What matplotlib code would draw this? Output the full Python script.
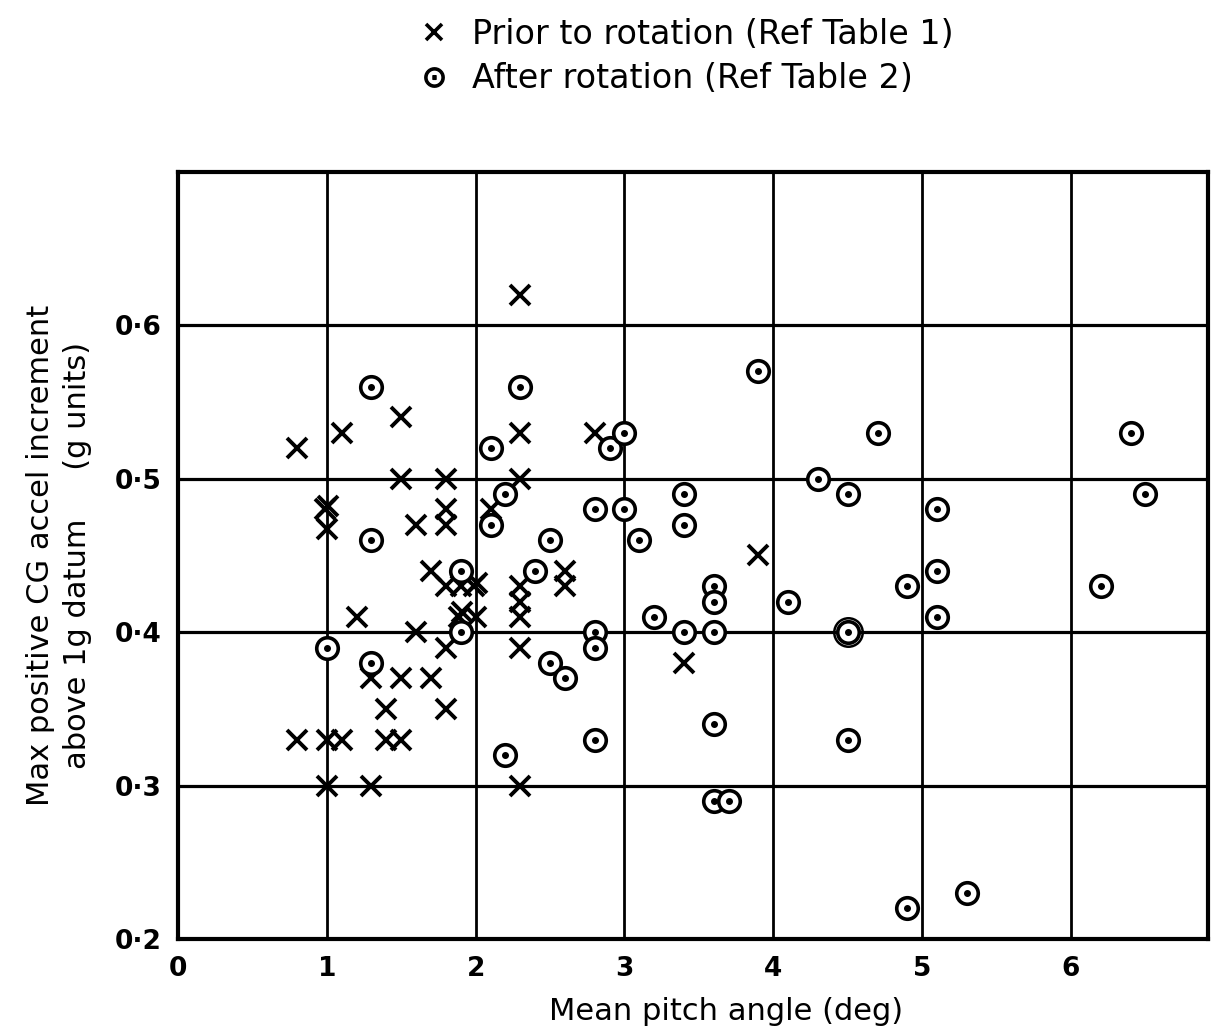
import matplotlib
matplotlib.use("Agg")
import matplotlib.pyplot as plt
from matplotlib.lines import Line2D
import numpy as np

# pitch angle (deg) vs max positive CG accel increment (g)
prior_x = [0.8, 0.8, 0.99, 1.01, 1.0, 1.0, 1.0, 1.1, 1.1, 1.2, 1.3, 1.3, 1.4, 1.4,
           1.5, 1.5, 1.5, 1.5, 1.6, 1.6, 1.7, 1.7, 1.8, 1.8, 1.8, 1.8, 1.8, 1.8,
           1.9, 1.89, 1.91, 1.99, 2.01, 2.0, 2.1, 2.3, 2.3, 2.3, 2.3, 2.3, 2.3,
           2.3, 2.3, 2.6, 2.6, 2.8, 3.4, 3.9]
prior_y = [0.52, 0.33, 0.48, 0.482, 0.467, 0.33, 0.30, 0.53, 0.33, 0.41, 0.37,
           0.30, 0.35, 0.33, 0.54, 0.50, 0.37, 0.33, 0.47, 0.40, 0.44, 0.37,
           0.50, 0.48, 0.47, 0.43, 0.39, 0.35, 0.43, 0.41, 0.413, 0.43, 0.432,
           0.41, 0.48, 0.62, 0.53, 0.50, 0.43, 0.42, 0.41, 0.39, 0.30, 0.44,
           0.43, 0.53, 0.38, 0.45]

after_x = [1.0, 1.3, 1.3, 1.3, 1.9, 1.9, 2.1, 2.1, 2.2, 2.2, 2.3, 2.4, 2.5, 2.5,
           2.6, 2.8, 2.8, 2.8, 2.8, 2.9, 3.0, 3.0, 3.1, 3.2, 3.4, 3.4, 3.4, 3.6,
           3.6, 3.6, 3.6, 3.6, 3.7, 3.9, 4.1, 4.3, 4.5, 4.5, 4.5, 4.7, 4.9, 4.9,
           5.1, 5.1, 5.1, 5.3, 6.2, 6.4, 6.5]
after_y = [0.39, 0.56, 0.46, 0.38, 0.44, 0.40, 0.52, 0.47, 0.49, 0.32, 0.56,
           0.44, 0.46, 0.38, 0.37, 0.48, 0.40, 0.39, 0.33, 0.52, 0.53, 0.48,
           0.46, 0.41, 0.49, 0.47, 0.40, 0.43, 0.42, 0.40, 0.34, 0.29, 0.29,
           0.57, 0.42, 0.50, 0.49, 0.40, 0.33, 0.53, 0.43, 0.22, 0.48, 0.44,
           0.41, 0.23, 0.43, 0.53, 0.49]
# how many readings sit on the same spot (drawn as extra rings)
after_n = [1] * len(after_x)
after_n[37] = 2

x_ticks = [0, 1, 2, 3, 4, 5, 6]
y_ticks = [0.2, 0.3, 0.4, 0.5, 0.6]

plt.rcParams['font.family'] = ['DejaVu Sans']

fig = plt.figure(figsize=(12.23, 10.33), dpi=100)
ax = fig.add_axes([0.1455, 0.091, 0.8422, 0.7425])

ax.set_xlim(0, 6.92)
ax.set_ylim(0.2, 0.7)

for xv in x_ticks[1:]:
    ax.axvline(xv, color='black', lw=2.0, zorder=1)
for yv in y_ticks[1:]:
    ax.axhline(yv, color='black', lw=2.3, zorder=1)

ax.plot(prior_x, prior_y, ls='none', marker='x', ms=14, mew=2.8,
        color='black', zorder=3)

ax.plot(after_x, after_y, ls='none', marker='o', ms=15.5, mew=2.6,
        mfc='white', mec='black', zorder=4)
ax.plot(after_x, after_y, ls='none', marker='o', ms=4, color='black', zorder=5)
for xv, yv, n in zip(after_x, after_y, after_n):
    for k in range(1, n):
        ax.plot([xv], [yv], ls='none', marker='o', ms=15.5 + 5 * k, mew=1.8,
                mfc='none', mec='black', zorder=4)

ax.set_xticks(x_ticks)
ax.set_xticklabels([str(v) for v in x_ticks])
ax.set_yticks(y_ticks)
ax.set_yticklabels(['0·' + str(int(round(v * 10))) for v in y_ticks])
ax.tick_params(length=0, labelsize=19, pad=12)
for lab in ax.get_xticklabels() + ax.get_yticklabels():
    lab.set_fontweight('bold')

for s in ax.spines.values():
    s.set_linewidth(3.0)

ax.set_xlabel('Mean pitch angle (deg)', fontsize=22, labelpad=14)
ax.xaxis.set_label_coords(0.532, -0.075)
ax.set_ylabel('Max positive CG accel increment\nabove 1g datum     (g units)',
              fontsize=22, labelpad=16, linespacing=1.35)

h_prior = Line2D([], [], ls='none', marker='x', ms=11, mew=2.6, color='black')
h_after = Line2D([], [], ls='none', marker='$\\odot$', ms=14, color='black')
fig.legend([h_prior, h_after],
           ['Prior to rotation (Ref Table 1)', 'After rotation (Ref Table 2)'],
           loc='upper left', bbox_to_anchor=(0.318, 1.012), frameon=False,
           fontsize=24, handlelength=0.9, handletextpad=0.7, labelspacing=0.35)

fig.savefig('out.png', dpi=100)
